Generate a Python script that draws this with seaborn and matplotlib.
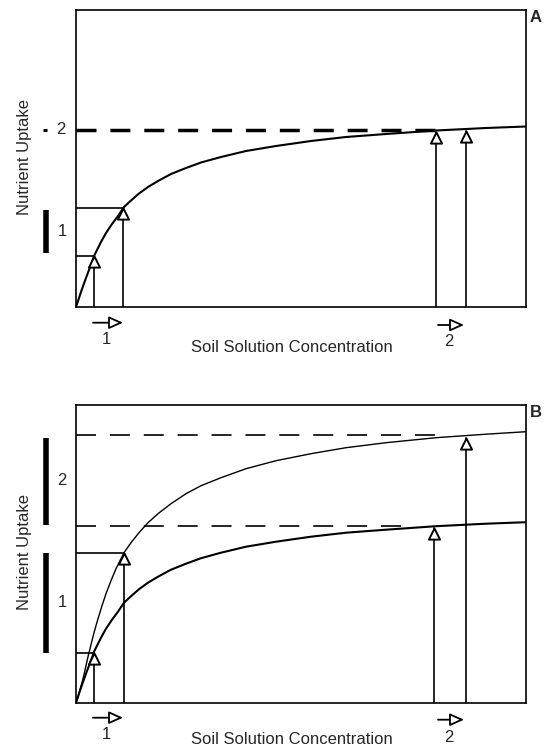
import matplotlib
matplotlib.use("Agg")
import matplotlib.pyplot as plt
from matplotlib.path import Path
import seaborn as sns
import pandas as pd

# ---------------- data ----------------
# x: soil solution concentration (arbitrary units), y: nutrient uptake (arbitrary units)
curve_low_x = [0, 2, 4, 6, 8, 10, 13, 16, 18, 20, 25, 30, 36, 42, 48, 55, 63, 72, 82,
               95, 110, 125, 145, 170, 200, 235, 270, 310, 360, 410, 450]
curve_low_y = [0, 6, 12, 18, 23.5, 29, 37, 45, 51, 55, 65, 74, 83, 91, 100, 106.5, 113.5,
               120, 126, 133, 139, 144.5, 150, 156, 161, 166, 170, 173, 176.5, 179, 180.5]

curve_high_x = [0, 2, 4, 6, 8, 10, 12, 15, 18, 22, 26, 30, 35, 40, 48, 55, 63, 72, 82,
                95, 110, 125, 145, 170, 200, 235, 270, 310, 360, 410, 450]
curve_high_y = [0, 6, 13, 20, 28, 37, 46, 58, 70, 84, 97, 109, 122, 134, 150, 160, 170,
                180, 189, 199, 209, 217, 225, 234, 242, 249, 255, 260, 265, 268.5, 271]

# Panel A: uptake points on the single curve
A_pts_x = [18, 47, 360, 390]
A_pts_y = [51, 99, 175.5, 176.5]
A_vmax = 177          # dashed line
A_vmax_end = 370

# Panel B: uptake points (lower curve at low conc, upper curve at low conc,
# lower curve at high conc, upper curve at high conc)
B_pts_x = [18, 48, 358, 390]
B_pts_y = [50, 150, 175, 265]
B_vmax = [177, 268]   # dashed lines (lower, upper)
B_vmax_end = [338, 370]

arrow_labels = ["1", "2"]
xlabel = "Soil Solution Concentration"
ylabel = "Nutrient Uptake"

# ---------------- styling ----------------
sns.set_theme(style="white")
plt.rcParams["font.family"] = ["Liberation Sans", "DejaVu Sans"]
plt.rcParams["lines.scale_dashes"] = False

W, H = 550, 749
fig = plt.figure(figsize=(5.5, 7.49), dpi=100)
axA = fig.add_axes([76 / W, 1 - 307 / H, 450 / W, 297 / H])
axB = fig.add_axes([76 / W, 1 - 702.7 / H, 450 / W, 297.7 / H])

tri = Path([(-0.5, -1), (0.5, -1), (0, 0), (-0.5, -1)],
           [Path.MOVETO, Path.LINETO, Path.LINETO, Path.CLOSEPOLY])

FS = 12


def setup(ax, ymax):
    ax.set_xlim(0, 450)
    ax.set_ylim(0, ymax)
    ax.set_xticks([])
    ax.set_yticks([])
    ax.set_xlabel("")
    ax.set_ylabel("")
    for s in ax.spines.values():
        s.set_visible(True)
        s.set_color("black")
        s.set_linewidth(1.2)


def uptake_points(ax, xs, ys, hline_idx):
    for i, (x, y) in enumerate(zip(xs, ys)):
        ax.plot([x, x], [0, y], color="black", lw=1.2, zorder=3)
        if i in hline_idx:
            ax.plot([0, x], [y, y], color="black", lw=1.2, zorder=3)
    ax.plot(xs, ys, linestyle="none", marker=tri, ms=16, mfc="white",
            mec="black", mew=1.4, zorder=5)


def arrows(ax, y_low, y_high, ylab_low, ylab_high):
    for (x0, x1, y, ly, lab) in [(17, 47, y_low, ylab_low, arrow_labels[0]),
                                 (362, 388, y_high, ylab_high, arrow_labels[1])]:
        ax.annotate("", xy=(x1, y), xytext=(x0, y), xycoords="data",
                    annotation_clip=False,
                    arrowprops=dict(arrowstyle="-|>,head_length=0.85,head_width=0.38",
                                    fc="white", ec="black", lw=1.3,
                                    shrinkA=0, shrinkB=0, mutation_scale=10))
        ax.text((x0 + x1) / 2 - 2, ly, lab, ha="center", va="center",
                fontsize=FS, clip_on=False)


def side_bar(ax, y0, y1, lab, ly):
    ax.plot([-30, -30], [y0, y1], color="black", lw=4, solid_capstyle="butt",
            clip_on=False)
    ax.text(-14, ly, lab, ha="center", va="center", fontsize=FS, clip_on=False)


# ---------------- Panel A ----------------
setup(axA, 297)
dfA = pd.DataFrame({"x": curve_low_x, "y": curve_low_y})
sns.lineplot(data=dfA, x="x", y="y", ax=axA, color="black", lw=1.5,
             estimator=None, sort=False, zorder=4)
axA.plot([0, A_vmax_end], [A_vmax, A_vmax], color="black", lw=2.5,
         linestyle=(0, (14.4, 10)), zorder=2)
uptake_points(axA, A_pts_x, A_pts_y, hline_idx=[0, 1])
arrows(axA, -15.7, -18, -33, -35)
side_bar(axA, min(A_pts_y[:2]) + 3, max(A_pts_y[:2]) - 2, "1", 75)
axA.plot([-33, -29], [A_vmax, A_vmax], color="black", lw=2.2, clip_on=False,
         solid_capstyle="butt")
axA.text(-15, A_vmax, "2", ha="center", va="center", fontsize=FS, clip_on=False)
setup(axA, 297)

# ---------------- Panel B ----------------
setup(axB, 297.7)
dfB = pd.DataFrame({"x": curve_low_x + curve_high_x,
                    "y": curve_low_y + curve_high_y,
                    "curve": ["low"] * len(curve_low_x) + ["high"] * len(curve_high_x)})
sns.lineplot(data=dfB[dfB.curve == "low"], x="x", y="y", ax=axB, color="black",
             lw=1.5, estimator=None, sort=False, zorder=4)
sns.lineplot(data=dfB[dfB.curve == "high"], x="x", y="y", ax=axB, color="black",
             lw=1.0, estimator=None, sort=False, zorder=4)
for v, xe in zip(B_vmax, B_vmax_end):
    axB.plot([0, xe], [v, v], color="black", lw=1.2,
             linestyle=(0, (14.4, 10)), zorder=2)
uptake_points(axB, B_pts_x, B_pts_y, hline_idx=[0, 1])
arrows(axB, -15, -17, -32, -35)
side_bar(axB, B_pts_y[0], B_pts_y[1], "1", 100)
side_bar(axB, B_vmax[0] + 1, B_pts_y[3], "2", 222)
setup(axB, 297.7)

# ---------------- texts ----------------
fig.text(292 / W, 1 - 347 / H, xlabel, ha="center", va="center", fontsize=FS)
fig.text(292 / W, 1 - 740 / H, xlabel, ha="center", va="center", fontsize=FS)
fig.text(25 / W, 1 - 157 / H, ylabel, ha="center", va="center", fontsize=FS,
         rotation=90)
fig.text(25 / W, 1 - 552 / H, ylabel, ha="center", va="center", fontsize=FS,
         rotation=90)
fig.text(536 / W, 1 - 18 / H, "A", ha="center", va="center", fontsize=FS,
         fontweight="bold")
fig.text(536 / W, 1 - 412 / H, "B", ha="center", va="center", fontsize=FS,
         fontweight="bold")

fig.savefig("out.png", dpi=100, facecolor="white")
